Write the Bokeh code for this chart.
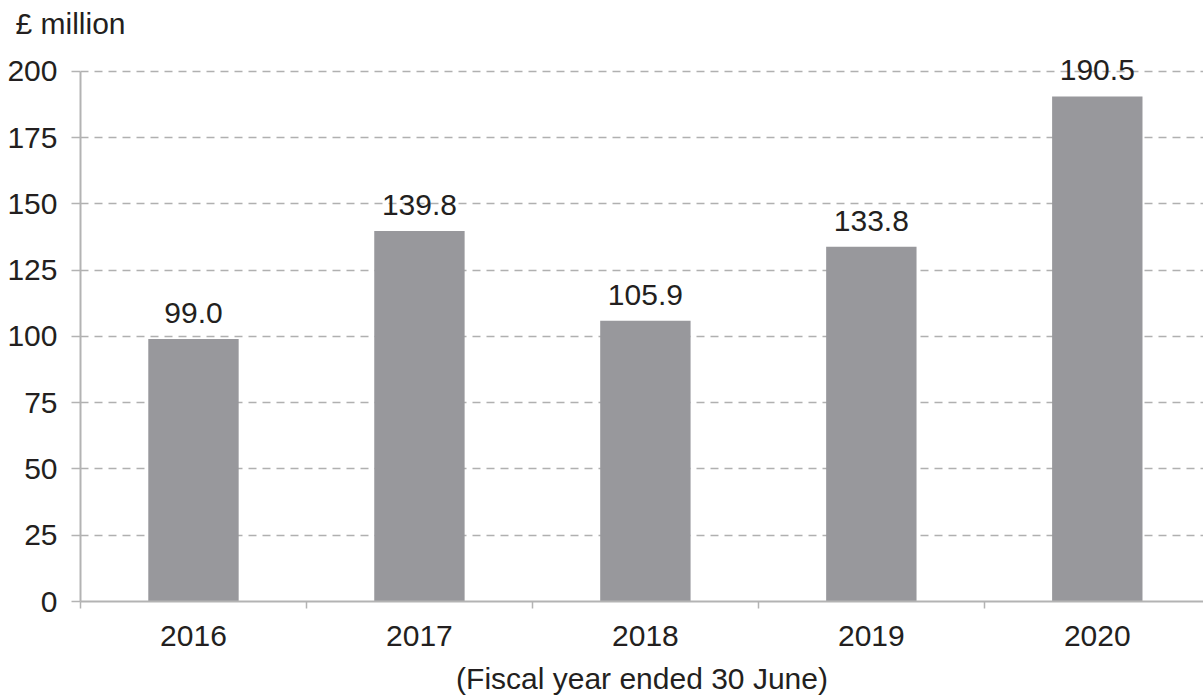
from bokeh.plotting import figure
from bokeh.models import Range1d, FixedTicker, LabelSet, ColumnDataSource, Title
from bokeh.core.properties import value
from bokeh.embed import file_html
from bokeh.resources import INLINE

years = ["2016", "2017", "2018", "2019", "2020"]
values = [99.0, 139.8, 105.9, 133.8, 190.5]
y_ticks = [0, 25, 50, 75, 100, 125, 150, 175, 200]
unit_label = "£ million"
x_title = "(Fiscal year ended 30 June)"

FONT = "Liberation Sans"
TXT = "#231f20"
FS = "30px"

xs = [i + 0.5 for i in range(len(years))]
src = ColumnDataSource(dict(x=xs, top=values, lab=[f"{v:.1f}" for v in values]))

# 200 sits at y=71, 0 at y=601 -> 2.65 px per unit; frame extends to 212
p = figure(width=1203, height=700, output_backend="svg", toolbar_location=None,
           x_range=Range1d(0, 4.97), y_range=Range1d(0, 212),
           min_border_left=80, min_border_right=0, min_border_top=39, min_border_bottom=99)
p.outline_line_color = None
p.background_fill_color = "white"

p.vbar(x="x", top="top", width=0.40, bottom=0, source=src, color="#98989c", line_color=None)
p.add_layout(LabelSet(x="x", y="top", text="lab", source=src, text_align="center",
                      text_baseline="middle", y_offset=26, text_font_size=FS,
                      text_color=TXT, text_font=value(FONT)))

# x axis
xt = FixedTicker(ticks=xs, minor_ticks=list(range(len(years) + 1)))
p.xaxis.ticker = xt
p.xaxis.major_label_overrides = {x: y for x, y in zip(xs, years)}
p.xaxis.major_tick_line_color = None
p.xaxis.major_tick_out = 0
p.xaxis.major_tick_in = 0
p.xaxis.minor_tick_out = 7
p.xaxis.minor_tick_in = 0
p.xaxis.minor_tick_line_color = "#b3b3b3"
p.xaxis.minor_tick_line_width = 1.5
p.xaxis.axis_line_color = "#b3b3b3"
p.xaxis.axis_line_width = 2
p.xaxis.major_label_standoff = 17
p.xaxis.major_label_text_font = FONT
p.xaxis.major_label_text_font_size = FS
p.xaxis.major_label_text_color = TXT
p.xaxis.axis_label = x_title
p.xaxis.axis_label_standoff = 13
p.xaxis.axis_label_text_font = FONT
p.xaxis.axis_label_text_font_size = FS
p.xaxis.axis_label_text_font_style = "normal"
p.xaxis.axis_label_text_color = TXT

# y axis
p.yaxis.ticker = FixedTicker(ticks=y_ticks, minor_ticks=[])
p.yaxis.bounds = (0, 200)
p.yaxis.major_tick_out = 9
p.yaxis.major_tick_in = 0
p.yaxis.major_tick_line_color = "#b3b3b3"
p.yaxis.major_tick_line_width = 1.5
p.yaxis.axis_line_color = "#b3b3b3"
p.yaxis.axis_line_width = 2
p.yaxis.major_label_standoff = 14
p.yaxis.major_label_text_font = FONT
p.yaxis.major_label_text_font_size = FS
p.yaxis.major_label_text_color = TXT

p.xgrid.grid_line_color = None
p.ygrid.grid_line_color = "#b0b0b0"
p.ygrid.grid_line_width = 1.3
p.ygrid.grid_line_dash = "8 6"

p.add_layout(Title(text=unit_label, align="left", offset=-65, standoff=0,
                   text_font=FONT, text_font_size=FS, text_color=TXT,
                   text_font_style="normal"), "above")

open("out.html", "w").write(file_html(p, INLINE))
